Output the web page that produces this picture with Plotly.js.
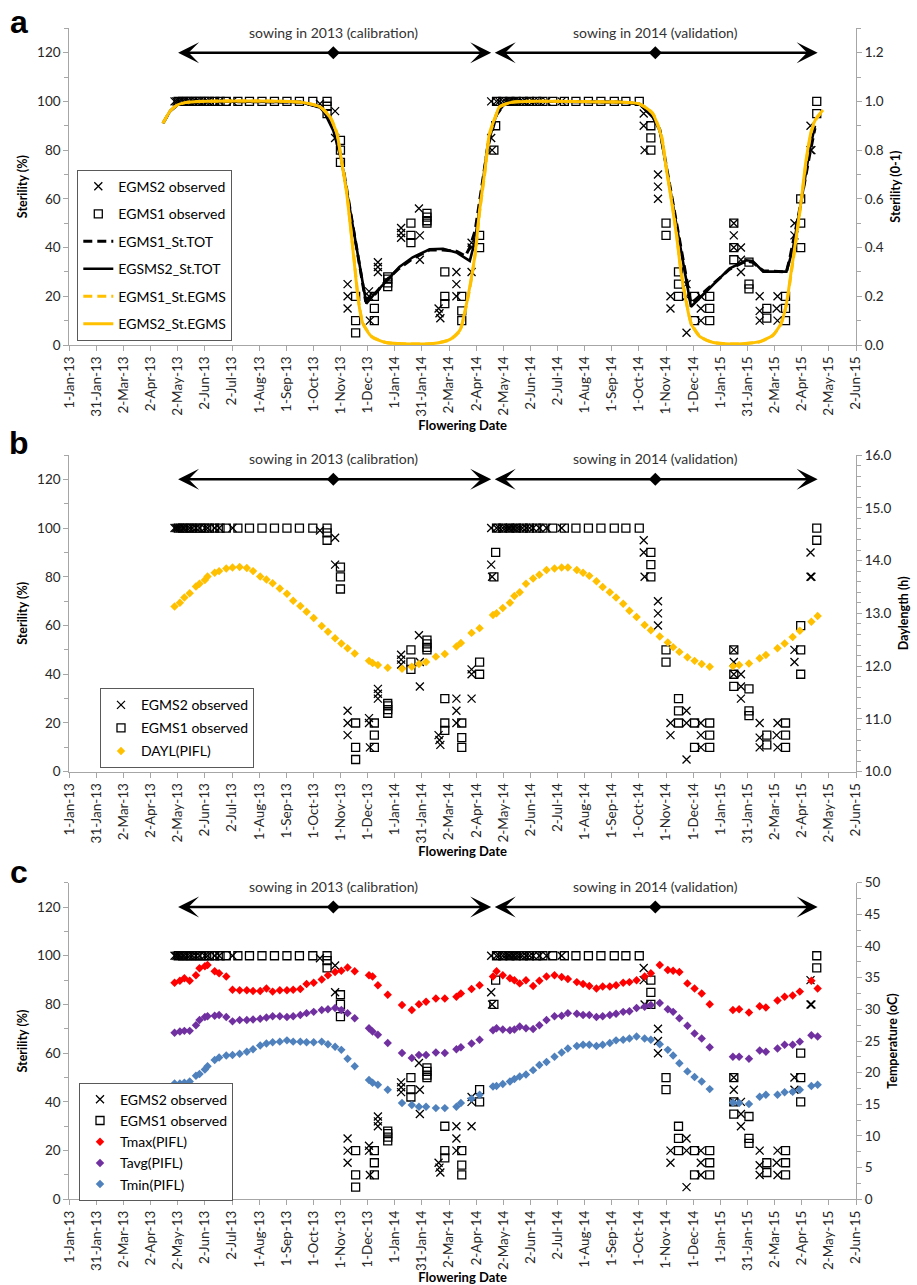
<!DOCTYPE html>
<html>
<head>
<meta charset="utf-8">
<script src="https://cdn.plot.ly/plotly-3.0.1.min.js"></script>
<style>html,body{margin:0;padding:0;background:#fff}#chart{width:917px;height:1285px}</style>
</head>
<body>
<div id="chart"></div>
<script>
// ---------------- DATA ----------------
const dateTickLabels = ['1-Jan-13','31-Jan-13','2-Mar-13','2-Apr-13','2-May-13','2-Jun-13','2-Jul-13','1-Aug-13','1-Sep-13','1-Oct-13','1-Nov-13','1-Dec-13','1-Jan-14','31-Jan-14','2-Mar-14','2-Apr-14','2-May-14','2-Jun-14','2-Jul-14','1-Aug-14','1-Sep-14','1-Oct-14','1-Nov-14','1-Dec-14','1-Jan-15','31-Jan-15','2-Mar-15','2-Apr-15','2-May-15','2-Jun-15'];
const axisStartDate = '2013-01-01';
const axisEndDate = '2015-06-02';

const seasonLabels = ['sowing in 2013 (calibration)', 'sowing in 2014 (validation)'];
const seasonStart = ['2013-05-03', '2014-04-23'];
const seasonMid   = ['2013-10-24', '2014-10-20'];
const seasonEnd   = ['2014-04-19', '2015-04-20'];
const seasonArrowY = [120, 120];

// Observed sterility (%)
const egms2Dates = [
 '2013-04-29','2013-05-01','2013-05-03','2013-05-05','2013-05-08','2013-05-10','2013-05-13','2013-05-16',
 '2013-05-19','2013-05-23','2013-05-27','2013-06-02','2013-06-05','2013-06-13','2013-06-18','2013-07-03',
 '2013-10-09','2013-10-26','2013-10-26',
 '2013-11-09','2013-11-09','2013-11-09',
 '2013-12-03','2013-12-03','2013-12-04',
 '2013-12-13','2013-12-13','2013-12-13',
 '2014-01-08','2014-01-08','2014-01-08',
 '2014-01-28','2014-01-29','2014-01-29',
 '2014-02-19','2014-02-20','2014-02-21',
 '2014-03-11','2014-03-11','2014-03-11',
 '2014-03-28','2014-03-28','2014-03-28',
 '2014-04-19','2014-04-19','2014-04-20',
 '2014-04-25','2014-04-28','2014-05-02','2014-05-05','2014-05-08','2014-05-10','2014-05-13','2014-05-15',
 '2014-05-18','2014-05-21','2014-05-24','2014-05-28','2014-06-01','2014-06-05','2014-06-12','2014-06-20','2014-07-07',
 '2014-10-07','2014-10-07','2014-10-08',
 '2014-10-23','2014-10-23','2014-10-23',
 '2014-11-06','2014-11-06',
 '2014-11-24','2014-11-24','2014-11-24',
 '2014-12-10','2014-12-10','2014-12-10',
 '2015-01-16','2015-01-16','2015-01-16',
 '2015-01-24','2015-01-24','2015-01-24',
 '2015-02-14','2015-02-14','2015-02-14',
 '2015-03-06','2015-03-05','2015-03-06',
 '2015-03-25','2015-03-25',
 '2015-04-12','2015-04-12','2015-04-13'
];
const egms2Values = [
 100,100,100,100,100,100,100,100,
 100,100,100,100,100,100,100,100,
 99,96,85,
 25,20,15,
 22,20,10,
 34,32,30,
 48,46,44,
 56,45,35,
 15,13,11,
 30,25,20,
 30,42,40,
 100,85,80,
 100,100,100,100,100,100,100,100,
 100,100,100,100,100,100,100,100,100,
 95,90,80,
 70,65,60,
 20,15,
 25,20,5,
 20,15,10,
 50,45,40,
 40,35,30,
 20,14,10,
 20,15,10,
 50,45,
 90,80,80
];
const egms1Dates = [
 '2013-05-03','2013-05-08','2013-05-13','2013-05-18','2013-05-23','2013-05-28','2013-06-02','2013-06-07','2013-06-13',
 '2013-06-19','2013-06-26','2013-07-09','2013-07-22','2013-08-05','2013-08-19','2013-09-02','2013-09-16','2013-10-01',
 '2013-10-17','2013-10-17','2013-10-17',
 '2013-11-01','2013-11-01','2013-11-01',
 '2013-11-18','2013-11-18','2013-11-18',
 '2013-12-09','2013-12-09','2013-12-09',
 '2013-12-24','2013-12-24','2013-12-24','2013-12-24',
 '2014-01-19','2014-01-19','2014-01-19',
 '2014-02-06','2014-02-06','2014-02-06','2014-02-06',
 '2014-02-26','2014-02-26','2014-02-26',
 '2014-03-17','2014-03-17','2014-03-17',
 '2014-04-06','2014-04-06',
 '2014-04-22','2014-04-24',
 '2014-04-25','2014-05-02','2014-05-10','2014-05-17','2014-05-25','2014-06-01','2014-06-09','2014-06-16',
 '2014-06-27','2014-07-10','2014-07-23','2014-08-06','2014-08-20','2014-09-04','2014-09-17','2014-10-02',
 '2014-10-15','2014-10-15','2014-10-15',
 '2014-11-01','2014-11-01',
 '2014-11-15','2014-11-15','2014-11-15',
 '2014-12-03','2014-12-03',
 '2014-12-20','2014-12-20','2014-12-20',
 '2015-01-16','2015-01-16','2015-01-16',
 '2015-02-02','2015-02-02','2015-02-02',
 '2015-02-22','2015-02-22',
 '2015-03-15','2015-03-15','2015-03-15',
 '2015-04-01','2015-04-01','2015-04-01',
 '2015-04-19','2015-04-19'
];
const egms1Values = [
 100,100,100,100,100,100,100,100,100,
 100,100,100,100,100,100,100,100,100,
 100,98,95,
 84,80,75,
 20,10,5,
 20,15,10,
 28,27,25.5,24,
 50,45,42,
 54,52.5,51,50,
 30,20,17,
 20,14,10,
 45,40,
 80,90,
 100,100,100,100,100,100,100,100,
 100,100,100,100,100,100,100,100,
 90,85,80,
 50,45,
 30,25,20,
 20,10,
 20,15,10,
 50,40,35,
 34,25,23,
 15,11,
 20,15,10,
 60,50,40,
 100,95
];

// Simulated sterility (0-1)
const totEgms1Dates = ['2013-04-16','2013-04-24','2013-05-02','2013-05-11','2013-05-27','2013-09-17','2013-10-09','2013-10-14','2013-10-24','2013-11-02','2013-11-29','2013-12-09','2013-12-22','2014-01-06','2014-01-21','2014-02-09','2014-02-24','2014-03-11','2014-03-21','2014-03-26','2014-04-01','2014-04-08','2014-04-15','2014-04-25','2014-05-04','2014-05-27','2014-09-10','2014-10-02','2014-10-17','2014-10-25','2014-11-29','2015-01-11','2015-01-30','2015-02-06','2015-02-18','2015-03-16','2015-03-20','2015-03-25','2015-03-31','2015-04-11','2015-04-17'];
const totEgms1Values = [0.91,0.96,0.985,0.995,1.0,0.997,0.978,0.96,0.89,0.77,0.185,0.205,0.265,0.315,0.355,0.39,0.39,0.385,0.365,0.40,0.47,0.64,0.81,0.945,0.99,1.0,0.997,0.99,0.94,0.885,0.17,0.31,0.345,0.34,0.305,0.30,0.36,0.45,0.56,0.78,0.89];

const totEgms2Dates = ['2013-04-16','2013-04-24','2013-05-02','2013-05-11','2013-05-27','2013-09-17','2013-10-09','2013-10-14','2013-10-24','2013-11-02','2013-11-30','2013-12-09','2013-12-22','2014-01-06','2014-01-21','2014-02-09','2014-02-24','2014-03-11','2014-03-26','2014-04-01','2014-04-08','2014-04-15','2014-04-25','2014-05-04','2014-05-27','2014-09-10','2014-10-02','2014-10-17','2014-10-25','2014-11-29','2015-01-11','2015-01-30','2015-02-06','2015-02-18','2015-03-16','2015-03-23','2015-03-31','2015-04-11','2015-04-17'];
const totEgms2Values = [0.91,0.96,0.985,0.995,1.0,0.997,0.975,0.955,0.88,0.76,0.17,0.21,0.26,0.32,0.36,0.393,0.395,0.38,0.345,0.43,0.62,0.82,0.95,0.99,1.0,0.997,0.99,0.936,0.88,0.157,0.314,0.348,0.345,0.301,0.301,0.39,0.553,0.80,0.90];

const egmsEgms1Dates = ['2013-04-16','2013-04-24','2013-05-02','2013-05-11','2013-05-27','2013-09-17','2013-10-09','2013-10-20','2013-10-28','2013-11-02','2013-11-08','2013-11-13','2013-11-17','2013-11-21','2013-11-26','2013-12-06','2013-12-22','2014-01-18','2014-02-13','2014-03-04','2014-03-15','2014-03-20','2014-03-26','2014-04-01','2014-04-06','2014-04-12','2014-04-17','2014-04-25','2014-04-28','2014-05-10','2014-05-27','2014-09-10','2014-10-02','2014-10-17','2014-10-27','2014-11-01','2014-11-07','2014-11-13','2014-11-18','2014-11-24','2014-11-29','2014-12-09','2014-12-24','2015-01-19','2015-02-14','2015-03-01','2015-03-10','2015-03-16','2015-03-21','2015-03-27','2015-04-02','2015-04-07','2015-04-13','2015-04-18','2015-04-26'];
const egmsEgms1Values = [0.91,0.96,0.985,0.995,1.0,0.997,0.978,0.94,0.87,0.765,0.63,0.465,0.33,0.19,0.092,0.035,0.01,0.004,0.006,0.022,0.058,0.125,0.232,0.37,0.545,0.71,0.86,0.948,0.976,0.995,1.0,0.997,0.99,0.952,0.858,0.735,0.60,0.45,0.30,0.175,0.092,0.035,0.01,0.004,0.013,0.04,0.087,0.165,0.285,0.435,0.60,0.75,0.875,0.925,0.962];

const egmsEgms2Dates = ['2013-04-16','2013-04-24','2013-05-02','2013-05-11','2013-05-27','2013-09-17','2013-10-09','2013-10-20','2013-10-28','2013-11-02','2013-11-08','2013-11-13','2013-11-17','2013-11-21','2013-11-26','2013-12-06','2013-12-22','2014-01-18','2014-02-13','2014-03-04','2014-03-15','2014-03-20','2014-03-26','2014-04-01','2014-04-06','2014-04-12','2014-04-17','2014-04-25','2014-04-28','2014-05-10','2014-05-27','2014-09-10','2014-10-02','2014-10-17','2014-10-27','2014-11-01','2014-11-07','2014-11-13','2014-11-18','2014-11-24','2014-11-29','2014-12-09','2014-12-24','2015-01-19','2015-02-14','2015-03-01','2015-03-10','2015-03-16','2015-03-21','2015-03-27','2015-04-02','2015-04-07','2015-04-13','2015-04-18','2015-04-26'];
const egmsEgms2Values = [0.91,0.96,0.985,0.995,1.0,0.997,0.977,0.936,0.868,0.758,0.622,0.458,0.321,0.184,0.089,0.034,0.01,0.004,0.006,0.023,0.061,0.13,0.239,0.376,0.553,0.717,0.868,0.95,0.977,0.995,1.0,0.997,0.99,0.95,0.853,0.73,0.594,0.443,0.293,0.17,0.089,0.034,0.01,0.004,0.014,0.041,0.089,0.17,0.293,0.443,0.607,0.758,0.881,0.929,0.965];

// Weather averaged over panicle initiation to flowering (PIFL)
const piflDates = [
 '2013-04-29','2013-05-05','2013-05-10','2013-05-16','2013-05-23','2013-05-27','2013-06-02','2013-06-05','2013-06-13','2013-06-18',
 '2013-06-26','2013-07-03','2013-07-11','2013-07-19','2013-07-26','2013-08-03','2013-08-10','2013-08-17','2013-08-25','2013-09-02',
 '2013-09-09','2013-09-17','2013-09-24','2013-10-02','2013-10-11','2013-10-18','2013-10-26','2013-11-02','2013-11-09','2013-11-17',
 '2013-12-03','2013-12-07','2013-12-13','2013-12-24','2014-01-09','2014-01-20','2014-01-28','2014-02-05','2014-02-16','2014-02-26',
 '2014-03-11','2014-03-16','2014-03-28','2014-04-06',
 '2014-04-21','2014-04-25','2014-05-02','2014-05-10','2014-05-15','2014-05-21','2014-05-28','2014-06-05','2014-06-12','2014-06-20',
 '2014-06-29','2014-07-07','2014-07-14','2014-07-24','2014-07-31','2014-08-07','2014-08-15','2014-08-22','2014-08-30','2014-09-06',
 '2014-09-14','2014-09-21','2014-09-29','2014-10-08','2014-10-15','2014-10-25','2014-11-03','2014-11-09','2014-11-16','2014-11-25',
 '2014-12-03','2014-12-11','2014-12-20','2015-01-15','2015-01-22','2015-02-02','2015-02-14','2015-02-21','2015-03-06','2015-03-14',
 '2015-03-23','2015-03-31','2015-04-13','2015-04-20'
];
const daylValues = [
 13.13,13.2,13.3,13.38,13.51,13.56,13.63,13.7,13.77,13.8,
 13.85,13.87,13.88,13.86,13.8,13.7,13.64,13.57,13.47,13.37,
 13.24,13.14,13.03,12.91,12.76,12.65,12.53,12.43,12.34,12.24,
 12.1,12.06,12.02,11.97,11.95,11.99,12.04,12.08,12.18,12.23,
 12.37,12.44,12.63,12.72,
 12.97,13.0,13.1,13.2,13.33,13.4,13.56,13.66,13.73,13.82,
 13.85,13.87,13.87,13.82,13.77,13.71,13.61,13.5,13.4,13.3,
 13.18,13.05,12.93,12.78,12.68,12.56,12.45,12.36,12.27,12.17,
 12.1,12.04,11.99,12.0,12.02,12.05,12.15,12.21,12.34,12.43,
 12.55,12.67,12.84,12.95
];
const tmaxValues = [
 34.2,34.5,34.9,34.5,35.4,36.5,36.8,37.0,36.0,35.7,
 35.2,33.1,33.0,33.0,32.9,32.9,33.3,32.8,33.0,33.0,
 33.1,33.2,34.0,34.2,34.7,35.4,35.9,36.1,36.6,36.0,
 35.4,35.2,33.8,32.3,30.7,29.9,30.8,31.2,31.7,31.7,
 32.0,32.5,33.2,33.8,
 35.2,36.0,35.4,34.9,34.6,34.1,34.6,33.7,34.5,35.2,
 35.4,35.1,34.8,34.3,34.0,33.7,33.3,33.6,33.6,33.8,
 34.2,34.3,34.6,35.2,35.7,37.0,36.2,36.1,35.9,34.1,
 33.3,32.5,30.8,29.9,30.0,29.5,30.5,30.3,31.4,32.0,
 32.2,32.8,34.5,33.3
];
const tavgValues = [
 26.3,26.5,26.6,26.6,27.5,28.3,28.8,28.9,29.0,29.1,
 28.8,28.1,28.3,28.3,28.4,28.5,28.7,28.9,28.9,28.8,
 28.9,29.1,29.4,29.6,29.9,30.0,30.2,29.9,29.4,28.6,
 27.0,26.5,26.0,24.7,23.1,22.3,22.8,22.8,23.2,23.1,
 23.7,24.0,24.6,25.2,
 26.7,27.0,26.8,26.7,26.8,27.3,27.0,26.9,27.5,28.3,
 28.9,29.0,29.4,29.3,29.1,29.1,28.8,28.9,29.1,29.3,
 29.6,29.7,30.2,30.4,30.7,31.0,30.0,29.6,28.6,27.4,
 26.2,25.4,24.0,22.5,22.5,22.2,23.5,23.3,23.8,24.4,
 24.4,24.9,25.9,25.7
];
const tminValues = [
 18.3,18.3,18.4,18.6,19.5,19.8,20.5,21.0,22.0,22.4,
 22.7,22.8,23.0,23.3,23.7,24.3,24.6,24.8,24.9,25.1,
 24.9,24.9,24.8,24.8,24.9,24.5,24.1,23.6,22.2,21.0,
 18.85,18.4,18.1,17.3,15.2,14.9,14.6,14.6,14.4,14.4,
 14.6,15.2,15.9,16.5,
 17.8,17.9,18.2,18.6,19.0,19.4,19.7,20.4,21.2,21.7,
 22.5,23.2,23.8,24.2,24.4,24.4,24.2,24.4,24.7,25.1,
 25.2,25.4,25.7,25.4,25.2,24.5,23.6,22.7,21.5,20.2,
 19.3,18.6,17.4,15.3,15.2,15.05,16.2,16.5,16.5,16.9,
 17.0,17.3,17.9,18.1
];

// ---------------- STYLE / LAYOUT ----------------
const FONT = 'Lato, "Noto Sans", sans-serif';
const AXIS_GRAY = '#a6a6a6';
const TICK_TEXT = '#262626';
const GOLD = '#FFC000';
const W = 917, H = 1285;
const X_DOMAIN = [69.3 / W, 856 / W];
const panels = [
  {top: 28.3, bottom: 345},
  {top: 455, bottom: 771.7},
  {top: 882.7, bottom: 1199.3}
];
const dom = p => [1 - p.bottom / H, 1 - p.top / H];

const t0 = Date.parse(axisStartDate + 'T00:00:00Z');
const t1 = Date.parse(axisEndDate + 'T00:00:00Z');
const tickVals = dateTickLabels.map((_, i) => t0 + i * (t1 - t0) / (dateTickLabels.length - 1));

function dateAxis(anchor) {
  return {
    type: 'date', domain: X_DOMAIN, anchor: anchor,
    range: [axisStartDate, axisEndDate],
    tickmode: 'array', tickvals: tickVals, ticktext: dateTickLabels,
    tickangle: -90, ticks: 'outside', ticklen: 5, tickcolor: AXIS_GRAY, tickwidth: 1,
    showline: true, linecolor: AXIS_GRAY, linewidth: 1,
    showgrid: false, zeroline: false,
    tickfont: {family: FONT, size: 13.5, color: TICK_TEXT},
    title: {text: '<b>Flowering Date</b>', font: {family: FONT, size: 13, color: '#000'}, standoff: 1}
  };
}
function leftAxis(domain, anchor) {
  return {
    domain: domain, anchor: anchor, range: [0, 130],
    tickmode: 'linear', tick0: 0, dtick: 20,
    ticks: 'outside', ticklen: 5, tickcolor: AXIS_GRAY,
    minor: {dtick: 10, ticks: 'outside', ticklen: 4, tickcolor: AXIS_GRAY},
    showline: true, linecolor: AXIS_GRAY, linewidth: 1,
    showgrid: false, zeroline: false,
    tickfont: {family: FONT, size: 13.5, color: TICK_TEXT},
    title: {text: '<b>Sterility (%)</b>', font: {family: FONT, size: 12.5, color: '#000'}, standoff: 6}
  };
}
function rightAxis(overlay, anchor, range, dtick, minorDtick, fmt, title) {
  return {
    overlaying: overlay, anchor: anchor, side: 'right', range: range,
    tickmode: 'linear', tick0: range[0], dtick: dtick, tickformat: fmt,
    ticks: 'outside', ticklen: 5, tickcolor: AXIS_GRAY,
    minor: {dtick: minorDtick, ticks: 'outside', ticklen: 4, tickcolor: AXIS_GRAY},
    showline: true, linecolor: AXIS_GRAY, linewidth: 1,
    showgrid: false, zeroline: false,
    tickfont: {family: FONT, size: 13.5, color: TICK_TEXT},
    title: {text: '<b>' + title + '</b>', font: {family: FONT, size: 12.5, color: '#000'}, standoff: 8}
  };
}
function legendBox(leftPx, topPx, gap) {
  return {
    x: leftPx / W, y: 1 - topPx / H, xanchor: 'left', yanchor: 'top',
    bgcolor: '#fff', bordercolor: '#595959', borderwidth: 1,
    font: {family: FONT, size: 14, color: '#000'},
    traceorder: 'grouped', tracegroupgap: gap, itemwidth: 30
  };
}

const xMarker = {symbol: 'x-thin-open', size: 8, color: '#000', line: {width: 1.3, color: '#000'}};
const sqMarker = {symbol: 'square-open', size: 8, color: '#000', line: {width: 1.3, color: '#000'}};

const traces = [];
const axesSets = [
  {x: 'x', yl: 'y', yr: 'y2', legend: 'legend'},
  {x: 'x2', yl: 'y3', yr: 'y4', legend: 'legend2'},
  {x: 'x3', yl: 'y5', yr: 'y6', legend: 'legend3'}
];
axesSets.forEach((a, i) => {
  // season arrow centre markers
  traces.push({x: seasonMid, y: seasonArrowY, xaxis: a.x, yaxis: a.yl, mode: 'markers',
    marker: {symbol: 'diamond', size: 10, color: '#000'}, showlegend: false, hoverinfo: 'skip'});
  traces.push({x: egms2Dates, y: egms2Values, xaxis: a.x, yaxis: a.yl, mode: 'markers',
    name: 'EGMS2 observed', marker: xMarker, legend: a.legend, legendgroup: 'g' + i + 'a'});
  traces.push({x: egms1Dates, y: egms1Values, xaxis: a.x, yaxis: a.yl, mode: 'markers',
    name: 'EGMS1 observed', marker: sqMarker, legend: a.legend, legendgroup: 'g' + i + 'b'});
});

// panel a model lines
traces.push({x: totEgms1Dates, y: totEgms1Values, xaxis: 'x', yaxis: 'y2', mode: 'lines', name: 'EGMS1_St.TOT',
  line: {color: '#000', width: 3, dash: '9px,5px'}, legend: 'legend', legendgroup: 'a3'});
traces.push({x: totEgms2Dates, y: totEgms2Values, xaxis: 'x', yaxis: 'y2', mode: 'lines', name: 'EGSMS2_St.TOT',
  line: {color: '#000', width: 2.6}, legend: 'legend', legendgroup: 'a4'});
traces.push({x: egmsEgms1Dates, y: egmsEgms1Values, xaxis: 'x', yaxis: 'y2', mode: 'lines', name: 'EGMS1_St.EGMS',
  line: {color: GOLD, width: 3, dash: '9px,5px', shape: 'spline', smoothing: 0.6}, legend: 'legend', legendgroup: 'a5'});
traces.push({x: egmsEgms2Dates, y: egmsEgms2Values, xaxis: 'x', yaxis: 'y2', mode: 'lines', name: 'EGMS2_St.EGMS',
  line: {color: GOLD, width: 3, shape: 'spline', smoothing: 0.6}, legend: 'legend', legendgroup: 'a6'});

// panel b daylength
traces.push({x: piflDates, y: daylValues, xaxis: 'x2', yaxis: 'y4', mode: 'markers', name: 'DAYL(PIFL)',
  marker: {symbol: 'diamond', size: 6.5, color: GOLD}, legend: 'legend2', legendgroup: 'b3'});

// panel c temperature
traces.push({x: piflDates, y: tmaxValues, xaxis: 'x3', yaxis: 'y6', mode: 'markers', name: 'Tmax(PIFL)',
  marker: {symbol: 'diamond', size: 6.5, color: '#FF0000'}, legend: 'legend3', legendgroup: 'c3'});
traces.push({x: piflDates, y: tavgValues, xaxis: 'x3', yaxis: 'y6', mode: 'markers', name: 'Tavg(PIFL)',
  marker: {symbol: 'diamond', size: 6.5, color: '#7030A0'}, legend: 'legend3', legendgroup: 'c4'});
traces.push({x: piflDates, y: tminValues, xaxis: 'x3', yaxis: 'y6', mode: 'markers', name: 'Tmin(PIFL)',
  marker: {symbol: 'diamond', size: 6.5, color: '#4F81BD'}, legend: 'legend3', legendgroup: 'c5'});

// annotations
const annotations = [];
const panelLetters = ['a', 'b', 'c'];
const letterTopPx = [2, 423, 852];
panelLetters.forEach((L, i) => {
  annotations.push({xref: 'paper', yref: 'paper', x: 19 / W, y: 1 - letterTopPx[i] / H, xanchor: 'center', yanchor: 'top',
    text: '<b>' + L + '</b>', showarrow: false, font: {family: '"Liberation Sans", Arial, sans-serif', size: 32, color: '#000'}});
});
axesSets.forEach(a => {
  seasonLabels.forEach((lab, s) => {
    annotations.push({xref: a.x, yref: a.yl, x: seasonMid[s], y: 128.4, text: lab, showarrow: false,
      xanchor: 'center', yanchor: 'middle', font: {family: FONT, size: 14, color: '#333'}});
    [seasonStart[s], seasonEnd[s]].forEach(tip => {
      annotations.push({xref: a.x, yref: a.yl, axref: a.x, ayref: a.yl, x: tip, y: seasonArrowY[s],
        ax: seasonMid[s], ay: seasonArrowY[s], text: '', showarrow: true,
        arrowhead: 3, arrowsize: 1.4, arrowwidth: 2.5, arrowcolor: '#000', standoff: 0, startstandoff: 0});
    });
  });
});

const layout = {
  width: W, height: H, margin: {l: 0, r: 0, t: 0, b: 0},
  paper_bgcolor: '#fff', plot_bgcolor: 'rgba(0,0,0,0)',
  font: {family: FONT, color: '#000'},
  hovermode: false,
  xaxis: dateAxis('y'),
  xaxis2: dateAxis('y3'),
  xaxis3: dateAxis('y5'),
  yaxis: leftAxis(dom(panels[0]), 'x'),
  yaxis2: rightAxis('y', 'x', [0, 1.3], 0.2, 0.1, '.1f', 'Sterility (0-1)'),
  yaxis3: leftAxis(dom(panels[1]), 'x2'),
  yaxis4: rightAxis('y3', 'x2', [10, 16], 1, 0.2, '.1f', 'Daylength (h)'),
  yaxis5: leftAxis(dom(panels[2]), 'x3'),
  yaxis6: rightAxis('y5', 'x3', [0, 50], 5, 2.5, 'd', 'Temperature (oC)'),
  legend: legendBox(77.3, 169.7, 6.3),
  legend2: legendBox(100, 688.3, 1.8),
  legend3: legendBox(79, 1082.7, 0),
  showlegend: true,
  annotations: annotations
};

Plotly.newPlot('chart', traces, layout, {staticPlot: true, displayModeBar: false});
</script>
</body>
</html>
